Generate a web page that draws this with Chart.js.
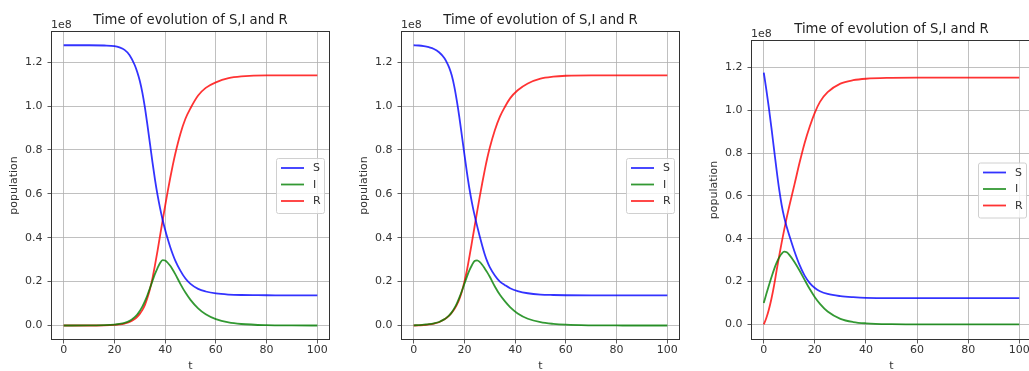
<!DOCTYPE html>
<html>
<head>
<meta charset="utf-8">
<script src="https://cdn.jsdelivr.net/npm/chart.js@4/dist/chart.umd.min.js"></script>
<style>
html, body { margin: 0; padding: 0; background: #fff; overflow: hidden; }
#wrap { position: relative; width: 1029px; height: 371px; overflow: hidden; }
canvas { position: absolute; top: 0; }
</style>
</head>
<body>
<div id="wrap">
  <canvas id="c1" width="345" height="380" style="left:0px;width:345px;height:380px"></canvas>
  <canvas id="c2" width="345" height="380" style="left:350px;width:345px;height:380px"></canvas>
  <canvas id="c3" width="345" height="380" style="left:700px;width:345px;height:380px"></canvas>
</div>
<script>
// values are in units of 1e8 people
var seriesLabels = ["S", "I", "R"];
var seriesColors = ["rgba(0,0,255,0.8)", "rgba(0,128,0,0.8)", "rgba(255,0,0,0.8)"];
var xTicks = [0, 20, 40, 60, 80, 100];
var yTicks = [0, 0.2, 0.4, 0.6, 0.8, 1.0, 1.2];
var titleText = "Time of evolution of S,I and R";

// panel 1
var t1 = [0,10,16,20,22,24,26,28,29,30,31,32,33,34,35,36,37,38,39,40,41,42,43,44,46,48,50,53,56,60,65,70,80,90,100];
var S1 = [1.277,1.277,1.276,1.273,1.267,1.256,1.232,1.187,1.155,1.115,1.062,0.995,0.915,0.83,0.745,0.665,0.595,0.535,0.482,0.436,0.395,0.358,0.325,0.296,0.25,0.214,0.19,0.167,0.155,0.146,0.141,0.139,0.138,0.137,0.137];
var I1 = [0,0.0005,0.0015,0.004,0.007,0.012,0.021,0.038,0.05,0.066,0.086,0.11,0.138,0.17,0.203,0.235,0.262,0.285,0.298,0.296,0.286,0.272,0.254,0.234,0.19,0.15,0.117,0.078,0.051,0.029,0.014,0.007,0.0017,0.0004,0.0001];
var R1 = [0,0,0.001,0.003,0.005,0.009,0.016,0.03,0.04,0.053,0.07,0.093,0.125,0.165,0.215,0.275,0.34,0.41,0.478,0.545,0.61,0.672,0.73,0.783,0.873,0.942,0.99,1.048,1.083,1.108,1.127,1.135,1.14,1.14,1.14];

// panel 2
var t2 = [0,2,4,6,8,10,12,13,14,15,16,17,18,19,20,21,22,23,24,25,26,27,28,29,30,32,34,36,38,41,45,50,55,60,70,80,90,100];
var S2 = [1.277,1.276,1.273,1.268,1.26,1.245,1.22,1.2,1.175,1.14,1.09,1.025,0.95,0.865,0.78,0.697,0.622,0.558,0.503,0.454,0.408,0.365,0.325,0.292,0.266,0.228,0.2,0.184,0.17,0.157,0.147,0.141,0.139,0.138,0.137,0.137,0.137,0.137];
var I2 = [0.001,0.002,0.004,0.006,0.01,0.016,0.028,0.036,0.046,0.06,0.078,0.1,0.127,0.157,0.19,0.223,0.252,0.276,0.294,0.297,0.29,0.277,0.26,0.242,0.222,0.178,0.14,0.11,0.084,0.055,0.031,0.015,0.0075,0.0036,0.0009,0.0002,0.0001,0];
var R2 = [0,0.001,0.002,0.005,0.009,0.015,0.027,0.035,0.045,0.058,0.074,0.094,0.12,0.155,0.2,0.252,0.315,0.382,0.45,0.518,0.584,0.647,0.707,0.762,0.81,0.89,0.952,0.997,1.035,1.072,1.103,1.125,1.134,1.138,1.14,1.14,1.14,1.14];

// panel 3
var t3 = [0,1,2,3,4,5,6,7,8,9,10,12,14,16,18,20,22,25,30,35,40,50,60,80,100];
var S3 = [1.177,1.097,1.012,0.918,0.82,0.723,0.633,0.558,0.5,0.455,0.415,0.342,0.278,0.228,0.193,0.17,0.155,0.142,0.132,0.127,0.124,0.123,0.123,0.123,0.123];
var I3 = [0.1,0.142,0.182,0.22,0.256,0.287,0.312,0.33,0.34,0.337,0.325,0.292,0.252,0.208,0.165,0.127,0.096,0.06,0.026,0.011,0.005,0.001,0.0002,0,0];
var R3 = [0,0.03,0.07,0.12,0.18,0.25,0.318,0.382,0.443,0.5,0.553,0.653,0.755,0.848,0.925,0.99,1.04,1.085,1.125,1.141,1.148,1.152,1.153,1.153,1.153];

var FONT = "'DejaVu Sans', sans-serif";

// frame, title over the axes, "1e8" offset text and the legend box
var decorPlugin = {
    id: "decor",
    afterDraw: function(chart, args, opts) {
        var ctx = chart.ctx;
        var a = chart.chartArea;
        ctx.save();
        ctx.strokeStyle = "#333";
        ctx.lineWidth = 1;
        ctx.strokeRect(Math.round(a.left) + 0.5, Math.round(a.top) + 0.5,
                       Math.round(a.right - a.left) - 1, Math.round(a.bottom - a.top) - 1);

        ctx.fillStyle = "#222";
        ctx.font = "13.2px " + FONT;
        ctx.textAlign = "center";
        ctx.textBaseline = "alphabetic";
        ctx.fillText(titleText, (a.left + a.right) / 2, a.top - opts.titleGap);

        ctx.fillStyle = "#333";
        ctx.font = "11px " + FONT;
        ctx.textAlign = "left";
        ctx.fillText("1e8", a.left, a.top - 3);

        // legend
        var bw = 48, bh = 55;
        var bx = a.right - 6 - bw;
        var by = (a.top + a.bottom) / 2 - bh / 2;
        ctx.beginPath();
        ctx.roundRect(bx + 0.5, by + 0.5, bw, bh, 2);
        ctx.fillStyle = "rgba(255,255,255,0.8)";
        ctx.fill();
        ctx.strokeStyle = "#d0d0d0";
        ctx.lineWidth = 1;
        ctx.stroke();
        ctx.textBaseline = "middle";
        chart.data.datasets.forEach(function(ds, i) {
            var ly = by + 10 + i * 16.5;
            ctx.strokeStyle = ds.borderColor;
            ctx.lineWidth = 1.8;
            ctx.beginPath();
            ctx.moveTo(bx + 5, ly);
            ctx.lineTo(bx + 28, ly);
            ctx.stroke();
            ctx.fillStyle = "#333";
            ctx.fillText(ds.label, bx + 37, ly + 0.5);
        });
        ctx.restore();
    }
};

function makePanel(id, t, S, I, R, yMin, yMax, areaTop) {
    var series = [S, I, R];
    var datasets = series.map(function(vals, k) {
        return {
            label: seriesLabels[k],
            data: t.map(function(x, j) { return { x: x, y: vals[j] }; }),
            borderColor: seriesColors[k],
            borderWidth: 1.8,
            pointRadius: 0,
            fill: false,
            cubicInterpolationMode: "monotone"
        };
    });
    return new Chart(document.getElementById(id).getContext("2d"), {
        type: "line",
        data: { datasets: datasets },
        options: {
            responsive: false,
            animation: false,
            layout: { padding: { left: 0, right: id === "c3" ? 13 : 15, top: areaTop, bottom: 0 } },
            plugins: {
                legend: { display: false },
                tooltip: { enabled: false },
                title: { display: false },
                decor: { titleGap: 7.5 }
            },
            scales: {
                x: {
                    type: "linear",
                    min: -5,
                    max: 105,
                    afterBuildTicks: function(s) { s.ticks = xTicks.map(function(v) { return { value: v }; }); },
                    afterFit: function(s) { s.height = 40; },
                    grid: { color: "#b0b0b0", lineWidth: 0.8, tickColor: "#333", tickLength: 3.5, tickWidth: 0.8 },
                    border: { display: false },
                    ticks: {
                        color: "#333", padding: 0.5, maxRotation: 0,
                        font: { family: FONT, size: 11 },
                        callback: function(v) { return String(v); }
                    },
                    title: { display: true, text: "t", color: "#333", font: { family: FONT, size: 11 }, padding: { top: 0, bottom: 7 } }
                },
                y: {
                    type: "linear",
                    min: yMin,
                    max: yMax,
                    afterBuildTicks: function(s) { s.ticks = yTicks.map(function(v) { return { value: v }; }); },
                    afterFit: function(s) { s.width = 51; },
                    grid: { color: "#b0b0b0", lineWidth: 0.8, tickColor: "#333", tickLength: 3.5, tickWidth: 0.8 },
                    border: { display: false },
                    ticks: {
                        color: "#333", padding: 5,
                        font: { family: FONT, size: 11 },
                        callback: function(v) { return v.toFixed(1); }
                    },
                    title: { display: true, text: "population", color: "#333", font: { family: FONT, size: 11 }, padding: { top: 7.5, bottom: 0 } }
                }
            }
        },
        plugins: [decorPlugin]
    });
}

makePanel("c1", t1, S1, I1, R1, -0.066, 1.342, 31);
makePanel("c2", t2, S2, I2, R2, -0.066, 1.342, 31);
makePanel("c3", t3, S3, I3, R3, -0.073, 1.329, 40);
</script>
</body>
</html>
